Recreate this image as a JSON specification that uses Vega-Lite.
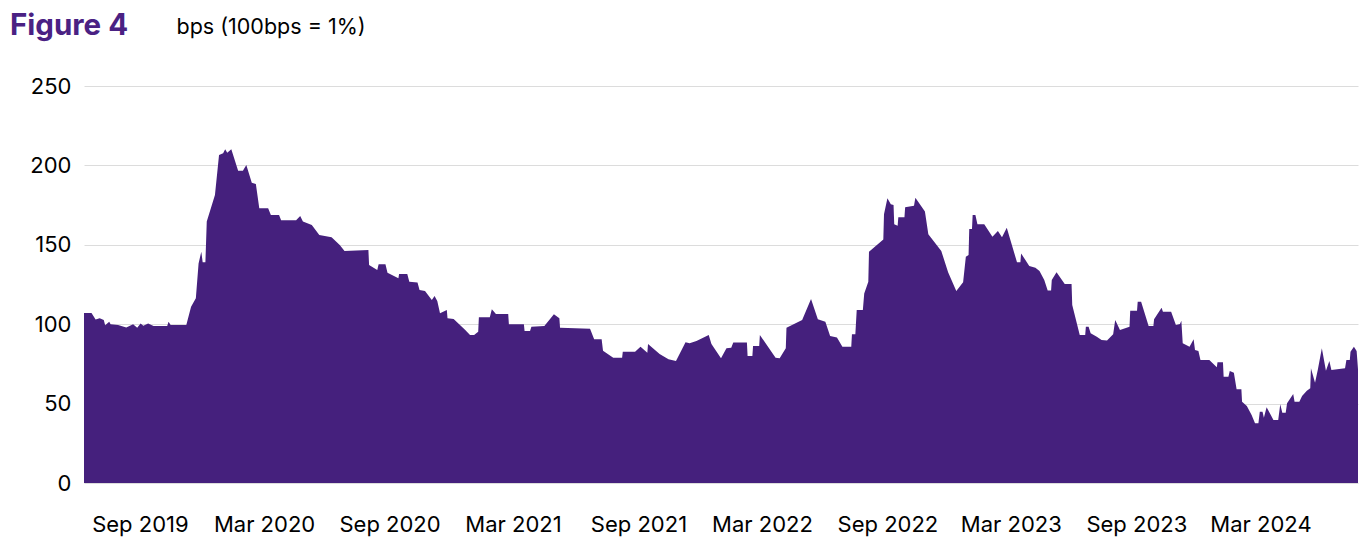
{
"$schema": "https://vega.github.io/schema/vega-lite/v6.json",
"width": 1274, "height": 397,
"autosize": {"type": "none"},
"padding": {"left": 84, "top": 86, "right": 6, "bottom": 54},
"background": "white",
"title": {"text": "Figure 4", "anchor": "start", "frame": "group", "dx": -74, "offset": -25, "fontSize": 29.5, "fontWeight": "bold", "color": "#4a2183", "font": "Inter"},
"data": {"values": [
{"d":"2019-06-11","v":107},{"d":"2019-06-22","v":107},{"d":"2019-06-28","v":103},{"d":"2019-07-04","v":103.7},{"d":"2019-07-10","v":102.6},{"d":"2019-07-12","v":99.3},{"d":"2019-07-18","v":101.6},{"d":"2019-07-20","v":99.9},{"d":"2019-07-31","v":99.5},{"d":"2019-08-12","v":98},{"d":"2019-08-22","v":99.9},{"d":"2019-08-28","v":97.8},{"d":"2019-09-02","v":100.5},{"d":"2019-09-06","v":99},{"d":"2019-09-13","v":100.5},{"d":"2019-09-21","v":98.9},{"d":"2019-10-11","v":98.9},{"d":"2019-10-13","v":101.6},{"d":"2019-10-16","v":99.5},{"d":"2019-11-08","v":99.5},{"d":"2019-11-15","v":111},{"d":"2019-11-22","v":116.3},{"d":"2019-11-26","v":138.3},{"d":"2019-11-30","v":145.7},{"d":"2019-12-02","v":139},{"d":"2019-12-06","v":139},{"d":"2019-12-08","v":164.6},{"d":"2019-12-20","v":181.4},{"d":"2019-12-26","v":206.5},
{"d":"2020-01-01","v":207.6},{"d":"2020-01-04","v":210.1},{"d":"2020-01-07","v":208},{"d":"2020-01-13","v":210.1},{"d":"2020-01-23","v":196.7},{"d":"2020-01-30","v":196.7},{"d":"2020-02-04","v":200.2},{"d":"2020-02-12","v":189.1},{"d":"2020-02-18","v":188.3},{"d":"2020-02-23","v":173},{"d":"2020-03-07","v":173},{"d":"2020-03-11","v":168.8},{"d":"2020-03-23","v":168.8},{"d":"2020-03-26","v":165.4},{"d":"2020-04-17","v":165.4},{"d":"2020-04-23","v":168.1},{"d":"2020-04-27","v":164.6},{"d":"2020-05-10","v":162.5},{"d":"2020-05-21","v":156.2},{"d":"2020-06-08","v":154.7},{"d":"2020-06-20","v":149.9},{"d":"2020-06-27","v":146.1},{"d":"2020-08-01","v":146.7},{"d":"2020-08-02","v":137.3},{"d":"2020-08-14","v":134.1},{"d":"2020-08-16","v":137.7},{"d":"2020-08-26","v":137.7},{"d":"2020-08-29","v":132.4},{"d":"2020-09-14","v":128.9},{"d":"2020-09-15","v":131.6},{"d":"2020-09-27","v":131.6},{"d":"2020-09-30","v":126.8},{"d":"2020-10-12","v":126.2},{"d":"2020-10-15","v":121.5},{"d":"2020-10-23","v":120.9},{"d":"2020-11-02","v":115.2},{"d":"2020-11-06","v":117.8},{"d":"2020-11-10","v":114.6},{"d":"2020-11-14","v":106.9},{"d":"2020-11-24","v":108.9},{"d":"2020-11-25","v":103.7},{"d":"2020-12-04","v":103.3},{"d":"2020-12-21","v":96.3},{"d":"2020-12-28","v":93.2},
{"d":"2021-01-03","v":93.2},{"d":"2021-01-09","v":95.3},{"d":"2021-01-10","v":104.3},{"d":"2021-01-26","v":104.3},{"d":"2021-01-29","v":109.4},{"d":"2021-02-04","v":106.4},{"d":"2021-02-22","v":106.4},{"d":"2021-02-23","v":99.9},{"d":"2021-03-17","v":99.9},{"d":"2021-03-18","v":95.7},{"d":"2021-03-26","v":95.7},{"d":"2021-03-28","v":98.4},{"d":"2021-04-16","v":98.9},{"d":"2021-04-30","v":106.2},{"d":"2021-05-08","v":103.7},{"d":"2021-05-09","v":97.8},{"d":"2021-06-22","v":97.2},{"d":"2021-06-28","v":90.5},{"d":"2021-07-09","v":90.5},{"d":"2021-07-11","v":83.3},{"d":"2021-07-26","v":78.9},{"d":"2021-08-08","v":78.9},{"d":"2021-08-09","v":82.7},{"d":"2021-08-27","v":82.7},{"d":"2021-09-04","v":85.8},{"d":"2021-09-14","v":82.1},{"d":"2021-09-15","v":87.5},{"d":"2021-10-02","v":81.2},{"d":"2021-10-15","v":77.9},{"d":"2021-10-26","v":76.8},{"d":"2021-11-09","v":88.6},{"d":"2021-11-15","v":88},{"d":"2021-11-25","v":89.4},{"d":"2021-12-13","v":93.2},{"d":"2021-12-17","v":87.5},{"d":"2021-12-31","v":78.5},
{"d":"2022-01-08","v":84.8},{"d":"2022-01-15","v":85.2},{"d":"2022-01-18","v":88.4},{"d":"2022-02-07","v":88.4},{"d":"2022-02-08","v":80},{"d":"2022-02-15","v":80},{"d":"2022-02-16","v":86.3},{"d":"2022-02-25","v":86.3},{"d":"2022-02-26","v":93.2},{"d":"2022-03-21","v":78.9},{"d":"2022-03-27","v":78.5},{"d":"2022-04-05","v":84.8},{"d":"2022-04-06","v":97.8},{"d":"2022-04-29","v":102.6},{"d":"2022-05-12","v":115.9},{"d":"2022-05-22","v":103.1},{"d":"2022-06-02","v":101.6},{"d":"2022-06-09","v":92.6},{"d":"2022-06-19","v":91.7},{"d":"2022-06-27","v":85.8},{"d":"2022-07-10","v":85.8},{"d":"2022-07-11","v":93.7},{"d":"2022-07-16","v":93.7},{"d":"2022-07-18","v":108.9},{"d":"2022-07-27","v":108.9},{"d":"2022-07-29","v":119.4},{"d":"2022-08-04","v":126.8},{"d":"2022-08-05","v":145.7},{"d":"2022-08-26","v":153.4},{"d":"2022-08-27","v":169.2},{"d":"2022-09-01","v":179.3},{"d":"2022-09-06","v":175.5},{"d":"2022-09-10","v":175.1},{"d":"2022-09-11","v":162.9},{"d":"2022-09-16","v":162},{"d":"2022-09-17","v":167.3},{"d":"2022-09-26","v":167.3},{"d":"2022-09-27","v":173.6},{"d":"2022-10-10","v":174.6},{"d":"2022-10-12","v":179.7},{"d":"2022-10-26","v":170.9},{"d":"2022-10-31","v":156.6},{"d":"2022-11-19","v":146.1},{"d":"2022-11-29","v":132.7},{"d":"2022-12-11","v":120.9},{"d":"2022-12-21","v":126.4},{"d":"2022-12-25","v":142.5},{"d":"2022-12-29","v":143.6},{"d":"2022-12-30","v":160},
{"d":"2023-01-03","v":160},{"d":"2023-01-04","v":168.8},{"d":"2023-01-08","v":168.8},{"d":"2023-01-11","v":162.9},{"d":"2023-01-21","v":162.9},{"d":"2023-02-02","v":155.1},{"d":"2023-02-10","v":158.7},{"d":"2023-02-16","v":154.7},{"d":"2023-02-23","v":160.8},{"d":"2023-03-10","v":139},{"d":"2023-03-15","v":139},{"d":"2023-03-16","v":144.6},{"d":"2023-03-28","v":136.6},{"d":"2023-04-06","v":135.6},{"d":"2023-04-12","v":133.5},{"d":"2023-04-19","v":127.8},{"d":"2023-04-24","v":121.3},{"d":"2023-04-29","v":121.3},{"d":"2023-04-30","v":127.8},{"d":"2023-05-07","v":132.7},{"d":"2023-05-19","v":125.3},{"d":"2023-05-29","v":125.3},{"d":"2023-05-30","v":112.1},{"d":"2023-06-10","v":93.2},{"d":"2023-06-18","v":93.2},{"d":"2023-06-19","v":98.4},{"d":"2023-06-23","v":98.4},{"d":"2023-06-26","v":94.3},{"d":"2023-07-05","v":92.1},{"d":"2023-07-12","v":90},{"d":"2023-07-20","v":89.8},{"d":"2023-07-29","v":93.6},{"d":"2023-08-01","v":102.6},{"d":"2023-08-08","v":96.3},{"d":"2023-08-22","v":98.4},{"d":"2023-08-23","v":108.5},{"d":"2023-09-02","v":108.5},{"d":"2023-09-03","v":114.2},{"d":"2023-09-08","v":114.2},{"d":"2023-09-19","v":98.9},{"d":"2023-09-26","v":98.9},{"d":"2023-09-27","v":103.1},{"d":"2023-10-08","v":110.4},{"d":"2023-10-10","v":107.9},{"d":"2023-10-22","v":107.9},{"d":"2023-10-29","v":99.5},{"d":"2023-11-04","v":100.1},{"d":"2023-11-06","v":102.2},{"d":"2023-11-08","v":88},{"d":"2023-11-18","v":85.8},{"d":"2023-11-24","v":90.5},{"d":"2023-11-26","v":83.8},{"d":"2023-12-01","v":83.1},{"d":"2023-12-04","v":77.5},{"d":"2023-12-17","v":77.5},{"d":"2023-12-28","v":72.9},{"d":"2023-12-29","v":76},
{"d":"2024-01-06","v":76},{"d":"2024-01-07","v":66.9},{"d":"2024-01-14","v":66.9},{"d":"2024-01-16","v":70.5},{"d":"2024-01-22","v":69.5},{"d":"2024-01-26","v":59},{"d":"2024-02-02","v":59},{"d":"2024-02-03","v":51.2},{"d":"2024-02-10","v":48.5},{"d":"2024-02-17","v":42.8},{"d":"2024-02-22","v":37.6},{"d":"2024-02-27","v":37.6},{"d":"2024-02-29","v":44.9},{"d":"2024-03-04","v":44.9},{"d":"2024-03-06","v":41.1},{"d":"2024-03-10","v":47.7},{"d":"2024-03-20","v":39.7},{"d":"2024-03-27","v":39.7},{"d":"2024-03-30","v":49.6},{"d":"2024-04-02","v":44.3},{"d":"2024-04-07","v":44.3},{"d":"2024-04-09","v":50.2},{"d":"2024-04-18","v":56},{"d":"2024-04-20","v":51.2},{"d":"2024-04-27","v":51.2},{"d":"2024-05-01","v":54.8},{"d":"2024-05-08","v":58.1},{"d":"2024-05-13","v":59.6},{"d":"2024-05-14","v":72.2},{"d":"2024-05-20","v":63.2},{"d":"2024-05-24","v":71.2},{"d":"2024-05-30","v":84.8},{"d":"2024-06-05","v":70.7},{"d":"2024-06-10","v":76.8},{"d":"2024-06-13","v":71.2},{"d":"2024-07-03","v":72.2},{"d":"2024-07-05","v":77.5},{"d":"2024-07-10","v":77.5},{"d":"2024-07-11","v":82.7},{"d":"2024-07-16","v":85.8},{"d":"2024-07-20","v":83.1},{"d":"2024-07-22","v":71.6}
]},
"mark": {"type": "area", "color": "#45207d", "interpolate": "linear"},
"encoding": {
  "x": {"field": "d", "type": "temporal",
    "scale": {"type": "utc", "nice": false, "domain": [{"year": 2019, "month": 6, "date": 11, "utc": true}, {"year": 2024, "month": 7, "date": 22, "utc": true}]},
    "axis": {"title": null, "format": "%b %Y", "grid": false, "domain": false, "ticks": false, "tickSize": 0, "labelPadding": 31, "labelFontSize": 22, "labelColor": "#000000", "labelFont": "Inter", "labelOverlap": false, "labelFlush": false,
      "values": [{"year": 2019, "month": 9, "date": 1, "utc": true}, {"year": 2020, "month": 3, "date": 1, "utc": true}, {"year": 2020, "month": 9, "date": 1, "utc": true}, {"year": 2021, "month": 3, "date": 1, "utc": true}, {"year": 2021, "month": 9, "date": 1, "utc": true}, {"year": 2022, "month": 3, "date": 1, "utc": true}, {"year": 2022, "month": 9, "date": 1, "utc": true}, {"year": 2023, "month": 3, "date": 1, "utc": true}, {"year": 2023, "month": 9, "date": 1, "utc": true}, {"year": 2024, "month": 3, "date": 1, "utc": true}]}},
  "y": {"field": "v", "type": "quantitative",
    "scale": {"domain": [0, 250], "nice": false},
    "axis": {"values": [0, 50, 100, 150, 200, 250], "grid": true, "gridColor": "#dcdcdc", "gridWidth": 1, "domain": false, "ticks": false, "tickSize": 0, "labelPadding": 13, "labelFontSize": 22, "labelColor": "#000000", "labelFont": "Inter",
      "title": "bps (100bps = 1%)", "titleAngle": 0, "titleAlign": "left", "titleBaseline": "alphabetic", "titleX": 92, "titleY": -53, "titleFontSize": 21.5, "titleFontWeight": "normal", "titleColor": "#000000", "titleFont": "Inter"}}
},
"config": {"view": {"stroke": null}, "font": "Inter"}
}
